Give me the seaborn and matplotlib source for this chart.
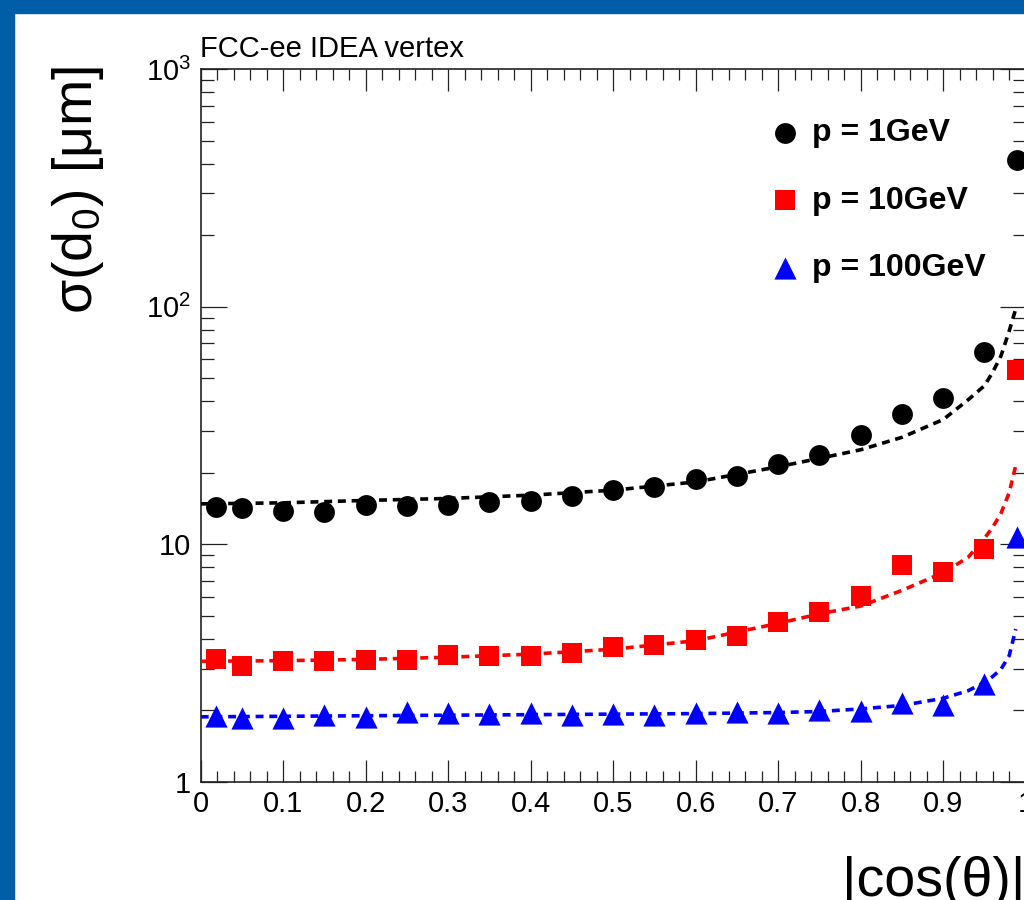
import seaborn as sns
import matplotlib.pyplot as plt
from matplotlib.patches import Rectangle
from matplotlib.ticker import LogLocator, NullFormatter, MultipleLocator

# measured points (|cos(theta)| bins)
cos_theta = [0.018, 0.05, 0.10, 0.15, 0.20, 0.25, 0.30, 0.35, 0.40, 0.45, 0.50,
             0.55, 0.60, 0.65, 0.70, 0.75, 0.80, 0.85, 0.90, 0.95, 0.99]
sigma_1gev = [14.3, 14.2, 13.85, 13.7, 14.6, 14.5, 14.6, 15.1, 15.2, 16.0, 17.0,
              17.4, 18.8, 19.4, 21.7, 23.8, 28.8, 35.2, 41.4, 64.6, 414.0]
sigma_10gev = [3.30, 3.08, 3.23, 3.23, 3.26, 3.26, 3.42, 3.38, 3.38, 3.48, 3.71,
               3.77, 3.96, 4.11, 4.73, 5.18, 6.06, 8.18, 7.67, 9.53, 54.1]
sigma_100gev = [1.90, 1.865, 1.855, 1.91, 1.88, 1.975, 1.945, 1.925, 1.945, 1.915, 1.93,
                1.915, 1.945, 1.975, 1.955, 2.01, 1.99, 2.14, 2.11, 2.58, 10.7]

# dashed fit curves
fit_x = [0.0, 0.1, 0.2, 0.3, 0.4, 0.5, 0.6, 0.7, 0.75, 0.8, 0.85, 0.9,
         0.93, 0.95, 0.96, 0.97, 0.98, 0.988]
fit_1gev = [14.8, 14.95, 15.3, 15.6, 16.1, 16.9, 18.3, 21.2, 23.0, 25.0, 28.2, 33.5,
            40.5, 46.5, 53.0, 62.0, 79.0, 98.0]
fit_10gev = [3.22, 3.24, 3.28, 3.35, 3.45, 3.62, 3.93, 4.65, 5.1, 5.5, 6.4, 7.6,
             8.8, 10.6, 11.8, 13.5, 16.5, 21.5]
fit_100gev = [1.88, 1.89, 1.90, 1.91, 1.92, 1.93, 1.94, 1.96, 1.98, 2.03, 2.10, 2.25,
              2.42, 2.62, 2.78, 2.98, 3.40, 4.40]

labels = ["p = 1GeV", "p = 10GeV", "p = 100GeV"]
x_ticks = [0, 0.1, 0.2, 0.3, 0.4, 0.5, 0.6, 0.7, 0.8, 0.9, 1.0]
x_tick_labels = ["0", "0.1", "0.2", "0.3", "0.4", "0.5", "0.6", "0.7", "0.8", "0.9", "1"]
y_ticks = [1, 10, 100, 1000]
y_tick_labels = ["1", "10", "$10^{2}$", "$10^{3}$"]

sns.set_style("ticks")
plt.rcParams["font.family"] = ["Liberation Sans", "DejaVu Sans"]
plt.rcParams["mathtext.fontset"] = "custom"
plt.rcParams["mathtext.rm"] = "Liberation Sans"
plt.rcParams["mathtext.it"] = "Liberation Sans:italic"
plt.rcParams["mathtext.bf"] = "Liberation Sans:bold"
plt.rcParams["mathtext.default"] = "regular"
plt.rcParams["text.color"] = "black"
plt.rcParams["axes.labelcolor"] = "black"

fig = plt.figure(figsize=(10.24, 9), dpi=100)
ax = fig.add_axes([200.7 / 1024, 118 / 900, 825 / 1024, 713 / 900])

series = [
    (sigma_1gev, fit_1gev, "black", "o", 225),
    (sigma_10gev, fit_10gev, "#ff0000", "s", 215),
    (sigma_100gev, fit_100gev, "#0000ff", "^", 255),
]
handles = []
for vals, fit, col, mk, size in series:
    sns.scatterplot(x=cos_theta, y=vals, color=col, marker=mk, s=size,
                    linewidth=0, ax=ax, zorder=3)
    handles.append(ax.collections[-1])
    sns.lineplot(x=fit_x, y=fit, color=col, linestyle=(0, (2.2, 1.6)), lw=2.6,
                 ax=ax, errorbar=None, zorder=4)

ax.set_yscale("log")
ax.set_xlim(0, 1)
ax.set_ylim(1, 1000)
ax.set_xticks(x_ticks)
ax.set_xticklabels(x_tick_labels)
ax.xaxis.set_minor_locator(MultipleLocator(0.02))
ax.set_yticks(y_ticks)
ax.set_yticklabels(y_tick_labels)
ax.yaxis.set_minor_locator(LogLocator(base=10, subs=[2, 3, 4, 5, 6, 7, 8, 9]))
ax.yaxis.set_minor_formatter(NullFormatter())

ax.tick_params(which="both", direction="in", top=True, right=True,
               width=0.9, color="#222222", labelsize=21, labelcolor="black")
ax.tick_params(axis="x", which="major", length=15.8, pad=6)
ax.tick_params(axis="x", which="minor", length=7.9)
ax.tick_params(axis="y", which="major", length=18.7, pad=7)
ax.tick_params(axis="y", which="minor", length=9.4)
for sp in ax.spines.values():
    sp.set_linewidth(1.2)
    sp.set_color("#222222")

ax.set_xlabel("|cos(θ)|", fontsize=40, loc="right")
ax.xaxis.set_label_coords(1.0, -0.104)
ax.set_ylabel("σ(d$_{0}$) [μm]", fontsize=40, loc="top")
ax.yaxis.set_label_coords(-0.115, 1.005)

ax.legend(handles, labels, loc="upper left", bbox_to_anchor=(770 / 1024, 1 - 118 / 900),
          bbox_transform=fig.transFigure, frameon=False,
          prop=dict(weight="bold", size=23), handlelength=0.95, handletextpad=0.35,
          labelspacing=1.18, borderpad=0, borderaxespad=0, scatterpoints=1)

fig.text(200 / 1024, 1 - 57 / 900, "FCC-ee IDEA vertex", fontsize=21,
         ha="left", va="baseline")

# blue slide frame on the left and top
fig.add_artist(Rectangle((0, 0), 14 / 1024, 1, transform=fig.transFigure,
                         color="#005ea8", zorder=10))
fig.add_artist(Rectangle((0, 1 - 13 / 900), 1, 13 / 900, transform=fig.transFigure,
                         color="#005ea8", zorder=10))

fig.savefig("out.png", dpi=100)
